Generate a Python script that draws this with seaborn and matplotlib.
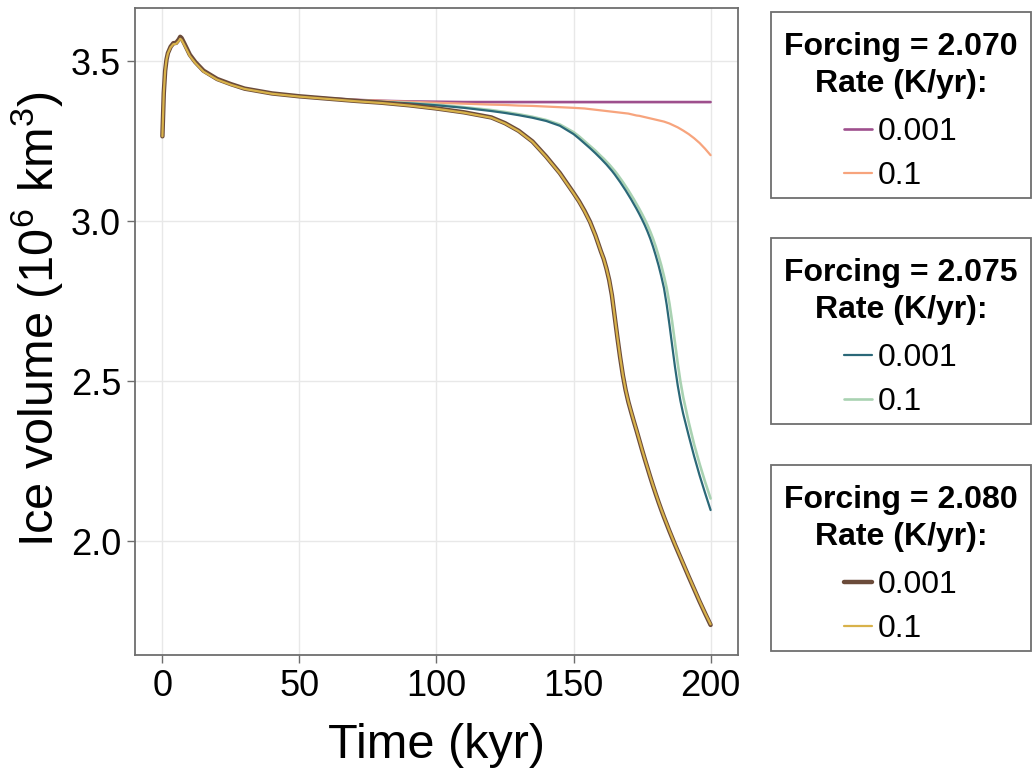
import matplotlib
matplotlib.use("Agg")
import matplotlib.pyplot as plt
import pandas as pd
import seaborn as sns
from matplotlib.lines import Line2D
from matplotlib.patches import Rectangle

# Model time axis (kyr)
time_kyr = [0, 0.5, 1, 1.5, 2, 3, 4, 5, 6, 6.5, 7, 8, 10, 12, 15, 20, 25, 30, 40, 50,
            60, 70, 80, 90, 100, 110, 120, 125, 130, 135, 140, 145,
            150, 152, 154, 156, 158,
            160, 161, 162, 163, 164, 165, 166, 167, 168, 169,
            170, 171, 172, 173, 174, 175, 176, 177, 178, 179,
            180, 181, 182, 183, 184, 185, 186, 187, 188, 189,
            190, 192, 194, 196, 198, 200]

# Ice volume (10^6 km^3) for each forcing / ramp rate
vol_2070_slow = [3.265, 3.40, 3.47, 3.505, 3.525, 3.545, 3.556, 3.557, 3.568, 3.576, 3.572,
                 3.555, 3.520, 3.497, 3.470, 3.444, 3.428, 3.414, 3.399, 3.390,
                 3.384, 3.379, 3.376, 3.374, 3.373, 3.372, 3.372, 3.372, 3.372, 3.372,
                 3.372, 3.372,
                 3.372, 3.372, 3.372, 3.372, 3.372,
                 3.372, 3.372, 3.372, 3.372, 3.372, 3.372, 3.372, 3.372, 3.372, 3.372,
                 3.372, 3.372, 3.372, 3.372, 3.372, 3.372, 3.372, 3.372, 3.372, 3.372,
                 3.372, 3.372, 3.372, 3.372, 3.372, 3.372, 3.372, 3.372, 3.372, 3.372,
                 3.372, 3.372, 3.372, 3.372, 3.372, 3.372]
vol_2070_fast = [3.265, 3.40, 3.47, 3.505, 3.525, 3.545, 3.556, 3.557, 3.568, 3.576, 3.572,
                 3.555, 3.520, 3.497, 3.470, 3.444, 3.428, 3.414, 3.399, 3.390,
                 3.384, 3.379, 3.376, 3.373, 3.370, 3.367, 3.364, 3.363, 3.361, 3.360,
                 3.358, 3.356,
                 3.354, 3.353, 3.352, 3.350, 3.348,
                 3.346, 3.345, 3.344, 3.343, 3.342, 3.341, 3.340, 3.339, 3.338, 3.337,
                 3.336, 3.334, 3.332, 3.330, 3.329, 3.327, 3.325, 3.323, 3.321, 3.319,
                 3.317, 3.315, 3.313, 3.311, 3.308, 3.305, 3.301, 3.297, 3.293, 3.288,
                 3.283, 3.272, 3.259, 3.244, 3.226, 3.206]
vol_2075_slow = [3.265, 3.40, 3.47, 3.505, 3.525, 3.545, 3.556, 3.557, 3.568, 3.576, 3.572,
                 3.555, 3.520, 3.497, 3.470, 3.444, 3.428, 3.414, 3.399, 3.390,
                 3.383, 3.377, 3.372, 3.368, 3.362, 3.354, 3.344, 3.338, 3.331, 3.323,
                 3.313, 3.298,
                 3.272, 3.258, 3.243, 3.228, 3.212,
                 3.195, 3.186, 3.177, 3.167, 3.157, 3.146, 3.134, 3.122, 3.109, 3.096,
                 3.082, 3.068, 3.053, 3.038, 3.022, 3.005, 2.987, 2.967, 2.945, 2.920,
                 2.892, 2.862, 2.828, 2.790, 2.738, 2.676, 2.610, 2.545, 2.487, 2.438,
                 2.398, 2.330, 2.265, 2.205, 2.150, 2.097]
vol_2075_fast = [3.265, 3.40, 3.47, 3.505, 3.525, 3.545, 3.556, 3.557, 3.568, 3.576, 3.572,
                 3.555, 3.520, 3.497, 3.470, 3.444, 3.428, 3.414, 3.399, 3.390,
                 3.384, 3.378, 3.373, 3.369, 3.364, 3.356, 3.347, 3.341, 3.334, 3.326,
                 3.316, 3.302,
                 3.278, 3.265, 3.250, 3.235, 3.220,
                 3.203, 3.195, 3.186, 3.177, 3.167, 3.157, 3.146, 3.134, 3.122, 3.109,
                 3.096, 3.082, 3.068, 3.053, 3.038, 3.022, 3.005, 2.987, 2.967, 2.945,
                 2.920, 2.892, 2.862, 2.828, 2.790, 2.742, 2.684, 2.620, 2.556, 2.498,
                 2.450, 2.372, 2.302, 2.241, 2.185, 2.133]
vol_2080_slow = [3.265, 3.40, 3.47, 3.505, 3.525, 3.545, 3.556, 3.557, 3.568, 3.576, 3.572,
                 3.555, 3.520, 3.497, 3.470, 3.444, 3.428, 3.414, 3.399, 3.390,
                 3.383, 3.376, 3.370, 3.362, 3.352, 3.340, 3.324, 3.306, 3.282, 3.249,
                 3.202, 3.150,
                 3.088, 3.062, 3.032, 2.998, 2.955,
                 2.905, 2.882, 2.852, 2.816, 2.768, 2.702, 2.636, 2.574, 2.518, 2.472,
                 2.435, 2.404, 2.374, 2.345, 2.315, 2.285, 2.256, 2.228, 2.200, 2.173,
                 2.147, 2.122, 2.098, 2.075, 2.053, 2.031, 2.010, 1.989, 1.969, 1.949,
                 1.929, 1.889, 1.850, 1.811, 1.774, 1.738]
vol_2080_fast = [3.265, 3.40, 3.47, 3.505, 3.524, 3.543, 3.553, 3.554, 3.563, 3.570, 3.566,
                 3.550, 3.516, 3.494, 3.467, 3.442, 3.426, 3.413, 3.398, 3.389,
                 3.382, 3.375, 3.369, 3.361, 3.351, 3.339, 3.323, 3.305, 3.281, 3.248,
                 3.201, 3.149,
                 3.087, 3.061, 3.031, 2.997, 2.955,
                 2.905, 2.882, 2.852, 2.817, 2.769, 2.703, 2.637, 2.575, 2.519, 2.473,
                 2.436, 2.405, 2.375, 2.346, 2.316, 2.286, 2.257, 2.229, 2.201, 2.174,
                 2.148, 2.123, 2.099, 2.076, 2.054, 2.032, 2.011, 1.990, 1.970, 1.950,
                 1.930, 1.890, 1.851, 1.812, 1.775, 1.740]

forcings = ["2.070", "2.075", "2.080"]
rates = ["0.001", "0.1"]
series = {
    ("2.070", "0.001"): vol_2070_slow,
    ("2.070", "0.1"): vol_2070_fast,
    ("2.075", "0.001"): vol_2075_slow,
    ("2.075", "0.1"): vol_2075_fast,
    ("2.080", "0.001"): vol_2080_slow,
    ("2.080", "0.1"): vol_2080_fast,
}
colors = {
    ("2.070", "0.001"): "#9e4f8d",
    ("2.070", "0.1"): "#f7a47d",
    ("2.075", "0.001"): "#2b6878",
    ("2.075", "0.1"): "#a9d2b2",
    ("2.080", "0.001"): "#6b4b3a",
    ("2.080", "0.1"): "#d8b24a",
}
widths = {
    ("2.070", "0.001"): 1.9,
    ("2.070", "0.1"): 1.6,
    ("2.075", "0.001"): 1.6,
    ("2.075", "0.1"): 1.9,
    ("2.080", "0.001"): 3.2,
    ("2.080", "0.1"): 1.6,
}
draw_order = [("2.070", "0.001"), ("2.070", "0.1"), ("2.075", "0.1"),
              ("2.075", "0.001"), ("2.080", "0.001"), ("2.080", "0.1")]

rows = []
for key, vals in series.items():
    for t, v in zip(time_kyr, vals):
        rows.append({"time": t, "volume": v, "forcing": key[0], "rate": key[1]})
df = pd.DataFrame(rows)

sns.set_theme(style="whitegrid")
plt.rcParams["font.family"] = ["Liberation Sans", "DejaVu Sans"]
plt.rcParams["mathtext.fontset"] = "custom"
plt.rcParams["mathtext.rm"] = "Liberation Sans"
plt.rcParams["text.color"] = "black"
plt.rcParams["axes.labelcolor"] = "black"

W, H = 1033, 775
fig = plt.figure(figsize=(W / 100, H / 100), dpi=100)
ax = fig.add_axes([135 / W, 1 - 655 / H, 603 / W, 647 / H])

for key in draw_order:
    sub = df[(df["forcing"] == key[0]) & (df["rate"] == key[1])]
    sns.lineplot(data=sub, x="time", y="volume", ax=ax, color=colors[key],
                 linewidth=widths[key], legend=False, sort=False)

ax.set_xlim(-10, 210)
ax.set_ylim(1.644, 3.666)
ax.set_xticks([0, 50, 100, 150, 200])
ax.set_yticks([2.0, 2.5, 3.0, 3.5])
ax.set_yticklabels(["2.0", "2.5", "3.0", "3.5"])
ax.grid(True, color="#e8e8e8", linewidth=1.0)
ax.set_facecolor("white")
for s in ax.spines.values():
    s.set_color("#6e6e6e")
    s.set_linewidth(1.3)
ax.tick_params(axis="both", which="major", direction="out", length=6, width=1.0,
               color="#6e6e6e", labelsize=26, labelcolor="black", pad=4,
               bottom=True, left=True)
ax.set_xlabel("Time (kyr)", fontsize=35, labelpad=14)
ax.set_ylabel(r"Ice volume ($\mathregular{10^6\ km^3}$)", fontsize=35, labelpad=4)
ax.yaxis.label.set_y(0.519)

# One framed legend panel per forcing level, stacked to the right of the axes
box_left, box_width, box_height = 771, 260, 186
box_tops = [12, 238, 465]
for forcing, top in zip(forcings, box_tops):
    fig.patches.append(Rectangle((box_left / W, 1 - (top + box_height) / H),
                                 box_width / W, box_height / H,
                                 transform=fig.transFigure, facecolor="white",
                                 edgecolor="#6e6e6e", linewidth=1.3, zorder=1))
    cx = (box_left + box_width / 2) / W
    fig.text(cx, 1 - (top + 43) / H, f"Forcing = {forcing}", ha="center",
             va="baseline", fontsize=23, fontweight="bold", zorder=2)
    fig.text(cx, 1 - (top + 80) / H, "Rate (K/yr):", ha="center",
             va="baseline", fontsize=23, fontweight="bold", zorder=2)
    handles = [Line2D([0], [0], color=colors[(forcing, r)],
                      linewidth=widths[(forcing, r)]) for r in rates]
    fig.legend(handles, rates, loc="center",
               bbox_to_anchor=(cx, 1 - (top + 142) / H),
               fontsize=23, frameon=False, borderpad=0, labelspacing=0.42,
               handlelength=0.85, handletextpad=0.2, borderaxespad=0)

fig.savefig("out.png", dpi=100)
